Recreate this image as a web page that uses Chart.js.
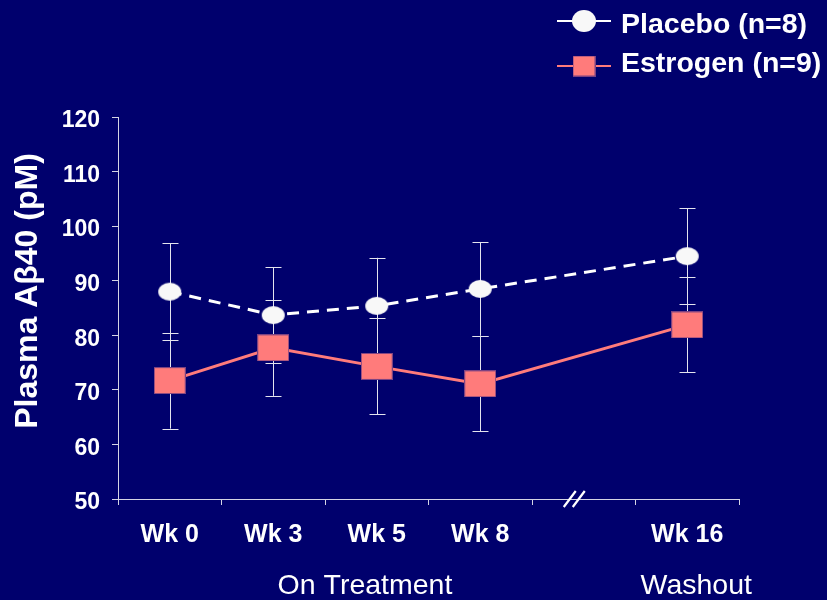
<!DOCTYPE html>
<html>
<head>
<meta charset="utf-8">
<script src="https://cdn.jsdelivr.net/npm/chart.js@4.4.0/dist/chart.umd.min.js"></script>
<style>
  html, body { margin: 0; padding: 0; background: #00006d; }
  canvas { display: block; }
</style>
</head>
<body>
<canvas id="chart" width="827" height="600"></canvas>
<script>
// Visits (the blank slot marks the break before the washout visit)
const weeks = ['Wk 0', 'Wk 3', 'Wk 5', 'Wk 8', '', 'Wk 16'];
const phaseLabels = ['On Treatment', 'Washout'];
const seriesNames = ['Placebo (n=8)', 'Estrogen (n=9)'];

// Plasma Aβ40 (pM), mean and SEM per visit
const placeboMean  = [88.0, 83.7, 85.4, 88.5, null, 94.5];
const placeboSem   = [8.9, 8.8, 8.8, 8.6, null, 8.8];
const estrogenMean = [71.7, 77.7, 74.3, 71.1, null, 81.9];
const estrogenSem  = [8.8, 8.8, 8.8, 8.7, null, 8.7];

// Value axis
const yMin = 50, yMax = 120, yStep = 10;
const yTitle = 'Plasma A\u03B240 (pM)';

const FONT = '"Liberation Sans", Arial, Helvetica, sans-serif';
const BG = '#00006d';
const AXIS = '#d4d4e4';
const SALMON = '#ff7b7b';

function ellipseMarker(w, h, fill) {
  const c = document.createElement('canvas');
  c.width = w + 2; c.height = h + 2;
  const g = c.getContext('2d');
  g.fillStyle = fill;
  g.beginPath();
  g.ellipse(c.width / 2, c.height / 2, w / 2, h / 2, 0, 0, Math.PI * 2);
  g.fill();
  return c;
}
function rectMarker(w, h, fill, stroke) {
  const c = document.createElement('canvas');
  c.width = w; c.height = h;
  const g = c.getContext('2d');
  g.fillStyle = fill;
  g.fillRect(0, 0, w, h);
  g.strokeStyle = stroke;
  g.lineWidth = 1;
  g.strokeRect(0.5, 0.5, w - 1, h - 1);
  return c;
}

const circleImg = ellipseMarker(23, 18, '#f8f8f8');
const squareImg = rectMarker(32, 27, SALMON, 'rgba(110,60,130,0.9)');
const legendCircle = ellipseMarker(24, 22, '#f8f8f8');
const legendSquare = rectMarker(23, 21, SALMON, 'rgba(110,60,130,0.9)');

const sems = [placeboSem, estrogenSem];

// Error bars drawn under the markers
const errorBars = {
  id: 'errorBars',
  beforeDatasetsDraw(chart) {
    const ctx = chart.ctx, ys = chart.scales.y;
    ctx.save();
    ctx.strokeStyle = '#e4e4ee';
    ctx.lineWidth = 1;
    chart.data.datasets.forEach((ds, i) => {
      const meta = chart.getDatasetMeta(i);
      ds.data.forEach((v, j) => {
        if (v === null) return;
        const x = Math.round(meta.data[j].x) + 0.5;
        const top = ys.getPixelForValue(v + sems[i][j]);
        const bot = ys.getPixelForValue(v - sems[i][j]);
        ctx.beginPath();
        ctx.moveTo(x, top); ctx.lineTo(x, bot);
        ctx.moveTo(x - 8, Math.round(top) + 0.5); ctx.lineTo(x + 8, Math.round(top) + 0.5);
        ctx.moveTo(x - 8, Math.round(bot) + 0.5); ctx.lineTo(x + 8, Math.round(bot) + 0.5);
        ctx.stroke();
      });
    });
    ctx.restore();
  }
};

// Background, axis title, phase labels, axis break and legend
const decorations = {
  id: 'decorations',
  beforeDraw(chart) {
    const ctx = chart.ctx;
    ctx.save();
    ctx.fillStyle = BG;
    ctx.fillRect(0, 0, chart.width, chart.height);
    ctx.restore();
  },
  afterDraw(chart) {
    const ctx = chart.ctx, xs = chart.scales.x, ys = chart.scales.y;
    ctx.save();

    // y-axis title
    ctx.fillStyle = '#ffffff';
    ctx.font = 'bold 32px ' + FONT;
    ctx.textAlign = 'center';
    ctx.textBaseline = 'alphabetic';
    ctx.translate(37, 291);
    ctx.rotate(-Math.PI / 2);
    ctx.fillText(yTitle, 0, 0);
    ctx.setTransform(1, 0, 0, 1, 0, 0);

    // phase labels under the visit labels
    ctx.font = '28.5px ' + FONT;
    ctx.textAlign = 'center';
    ctx.fillText(phaseLabels[0], (xs.getPixelForValue(1) + xs.getPixelForValue(2)) / 2 + 40, 594);
    ctx.fillText(phaseLabels[1], xs.getPixelForValue(5) + 9, 594);

    // axis break
    const bx = xs.getPixelForValue(4) - 9, by = ys.bottom;
    ctx.strokeStyle = '#ffffff';
    ctx.lineWidth = 2.2;
    ctx.beginPath();
    ctx.moveTo(bx - 11, by + 8); ctx.lineTo(bx + 1, by - 8);
    ctx.moveTo(bx - 2, by + 8); ctx.lineTo(bx + 10, by - 8);
    ctx.stroke();

    // legend
    const items = [
      { y: 21, color: '#ffffff', img: legendCircle, text: seriesNames[0], base: 33 },
      { y: 66, color: SALMON, img: legendSquare, text: seriesNames[1], base: 72 }
    ];
    ctx.font = 'bold 28.5px ' + FONT;
    ctx.textAlign = 'left';
    items.forEach(it => {
      ctx.strokeStyle = it.color;
      ctx.lineWidth = 2;
      ctx.beginPath();
      ctx.moveTo(557, it.y); ctx.lineTo(611, it.y);
      ctx.stroke();
      ctx.drawImage(it.img, 584 - it.img.width / 2, it.y - it.img.height / 2);
      ctx.fillStyle = '#ffffff';
      ctx.fillText(it.text, 621, it.base);
    });
    ctx.restore();
  }
};

new Chart(document.getElementById('chart'), {
  type: 'line',
  data: {
    labels: weeks,
    datasets: [
      {
        label: seriesNames[0],
        data: placeboMean,
        borderColor: '#ffffff',
        borderWidth: 3,
        borderDash: [12, 8],
        pointStyle: circleImg,
        spanGaps: true,
        tension: 0
      },
      {
        label: seriesNames[1],
        data: estrogenMean,
        borderColor: SALMON,
        borderWidth: 3,
        pointStyle: squareImg,
        spanGaps: true,
        tension: 0
      }
    ]
  },
  options: {
    responsive: false,
    animation: false,
    layout: { padding: { left: 0, top: 117, right: 88, bottom: 0 } },
    plugins: { legend: { display: false }, tooltip: { enabled: false } },
    scales: {
      x: {
        offset: true,
        grid: { display: true, offset: true, drawOnChartArea: false, drawTicks: true, tickLength: 6, color: AXIS },
        border: { display: true, color: AXIS, width: 1 },
        ticks: { color: '#ffffff', font: { family: FONT, size: 25, weight: 'bold' }, padding: 15, maxRotation: 0, autoSkip: false },
        afterFit(scale) { scale.height = 101; }
      },
      y: {
        min: yMin, max: yMax,
        grid: { display: true, drawOnChartArea: false, drawTicks: true, tickLength: 6, color: AXIS },
        border: { display: true, color: AXIS, width: 1 },
        ticks: { stepSize: yStep, color: '#ffffff', font: { family: FONT, size: 23, weight: 'bold' }, padding: 12, labelOffset: 4 },
        afterFit(scale) { scale.width = 118; }
      }
    }
  },
  plugins: [errorBars, decorations]
});
</script>
</body>
</html>
